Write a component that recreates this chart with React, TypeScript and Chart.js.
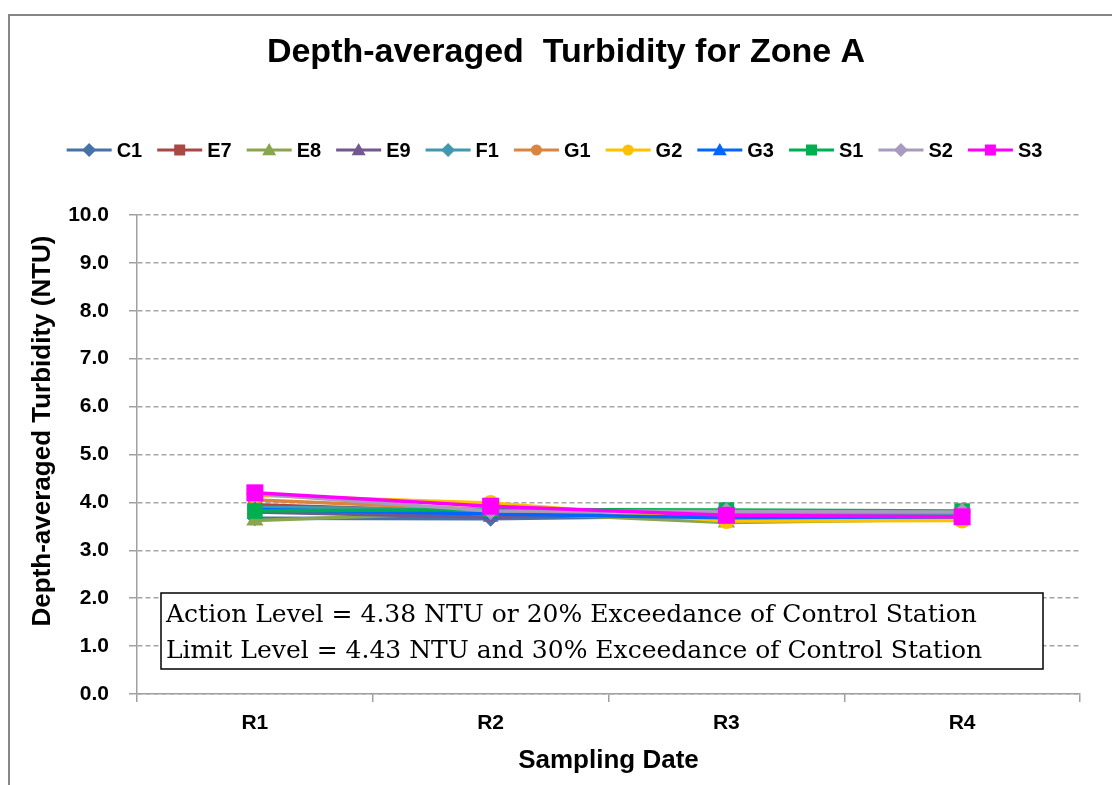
import React, { useEffect, useRef } from "react";
import { Chart, registerables } from "chart.js";

Chart.register(...registerables);

// ---------- data ----------
const categories = ["R1", "R2", "R3", "R4"];
const seriesNames = ["C1", "E7", "E8", "E9", "F1", "G1", "G2", "G3", "S1", "S2", "S3"];
const c1 = [3.67, 3.66, 3.72, 3.72];
const e7 = [3.95, 3.8, 3.72, 3.72];
const e8 = [3.62, 3.8, 3.58, 3.65];
const e9 = [3.8, 3.69, 3.8, 3.78];
const f1 = [3.9, 3.85, 3.78, 3.76];
const g1 = [4.05, 3.85, 3.65, 3.65];
const g2 = [4.15, 3.99, 3.61, 3.62];
const g3 = [3.85, 3.76, 3.68, 3.7];
const s1 = [3.82, 3.85, 3.84, 3.82];
const s2 = [4.18, 3.82, 3.81, 3.8];
const s3 = [4.2, 3.92, 3.73, 3.7];
const seriesValues = [c1, e7, e8, e9, f1, g1, g2, g3, s1, s2, s3];
const yMin = 0;
const yMax = 10;
const yStep = 1;

const titleText = "Depth-averaged  Turbidity for Zone A";
const yTitle = "Depth-averaged Turbidity (NTU)";
const xTitle = "Sampling Date";
const noteLines = [
  "Action Level = 4.38 NTU or 20% Exceedance of Control Station",
  "Limit Level = 4.43 NTU and 30% Exceedance of Control Station",
];

// ---------- styles ----------
const seriesStyles = [
  { color: "#4572A7", marker: "rectRot", r: 8 },
  { color: "#AA4643", marker: "rect", r: 10 },
  { color: "#89A54E", marker: "triangle", r: 10 },
  { color: "#71588F", marker: "triangle", r: 9 },
  { color: "#4198AF", marker: "rectRot", r: 8 },
  { color: "#DB843D", marker: "circle", r: 7 },
  { color: "#FFC000", marker: "circle", r: 8 },
  { color: "#0066FF", marker: "triangle", r: 9 },
  { color: "#00B050", marker: "rect", r: 11 },
  { color: "#A99BBD", marker: "rectRot", r: 9 },
  { color: "#FF00FF", marker: "rect", r: 12 },
];

const SANS = "'Liberation Sans', Arial, sans-serif";

function drawMarker(ctx: CanvasRenderingContext2D, style: string, x: number, y: number, r: number, color: string) {
  ctx.save();
  ctx.fillStyle = color;
  ctx.beginPath();
  if (style === "rectRot") {
    ctx.moveTo(x, y - r);
    ctx.lineTo(x + r, y);
    ctx.lineTo(x, y + r);
    ctx.lineTo(x - r, y);
    ctx.closePath();
  } else if (style === "rect") {
    ctx.rect(x - r, y - r, 2 * r, 2 * r);
  } else if (style === "triangle") {
    ctx.moveTo(x, y - r);
    ctx.lineTo(x + r, y + r * 0.75);
    ctx.lineTo(x - r, y + r * 0.75);
    ctx.closePath();
  } else {
    ctx.arc(x, y, r, 0, Math.PI * 2);
  }
  ctx.fill();
  ctx.restore();
}

const decorPlugin = {
  id: "decor",
  afterDraw(chart: any) {
    const ctx: CanvasRenderingContext2D = chart.ctx;
    const area = chart.chartArea;
    ctx.save();
    // title
    ctx.fillStyle = "#000";
    ctx.font = `bold 34px ${SANS}`;
    ctx.textAlign = "center";
    ctx.textBaseline = "middle";
    ctx.fillText(titleText, 566, 53);

    // y axis title
    ctx.save();
    ctx.translate(43, 431);
    ctx.rotate(-Math.PI / 2);
    ctx.font = `bold 26px ${SANS}`;
    ctx.fillText(yTitle, 0, 0);
    ctx.restore();

    // legend
    ctx.font = `bold 20px ${SANS}`;
    const lineLen = 45;
    const gapText = 5;
    const gapItem = 15;
    const datasets = chart.data.datasets;
    const widths = datasets.map((d: any) => ctx.measureText(d.label).width);
    let total = 0;
    widths.forEach((w: number, i: number) => {
      total += lineLen + gapText + w + (i < widths.length - 1 ? gapItem : 0);
    });
    let x = 554.5 - total / 2;
    const ly = 150;
    ctx.textAlign = "left";
    datasets.forEach((d: any, i: number) => {
      const st = seriesStyles[i];
      ctx.strokeStyle = st.color;
      ctx.lineWidth = 3;
      ctx.beginPath();
      ctx.moveTo(x, ly);
      ctx.lineTo(x + lineLen, ly);
      ctx.stroke();
      const mr = st.marker === "rect" ? 5.5 : st.marker === "circle" ? 5.5 : 7;
      drawMarker(ctx, st.marker, x + lineLen / 2, ly, mr, st.color);
      ctx.fillStyle = "#000";
      ctx.fillText(d.label, x + lineLen + gapText, ly + 1);
      x += lineLen + gapText + widths[i] + gapItem;
    });

    // note box
    const bx = area.left + 24;
    const by = 593;
    const bw = 882;
    const bh = 76;
    ctx.fillStyle = "#fff";
    ctx.fillRect(bx, by, bw, bh);
    ctx.strokeStyle = "#000";
    ctx.lineWidth = 1.5;
    ctx.strokeRect(bx, by, bw, bh);
    ctx.font = `24px 'DejaVu Serif', serif`;
    const w0 = ctx.measureText(noteLines[0]).width;
    const size = (24 * 811) / w0;
    ctx.font = `${size.toFixed(2)}px 'DejaVu Serif', serif`;
    ctx.fillStyle = "#000";
    ctx.textBaseline = "alphabetic";
    ctx.fillText(noteLines[0], bx + 5, by + 29);
    ctx.fillText(noteLines[1], bx + 5, by + 65);
    ctx.restore();
  },
};

export default function App() {
  const ref = useRef<HTMLCanvasElement | null>(null);
  useEffect(() => {
    if (!ref.current) return;
    const n = seriesNames.length;
    const chart = new Chart(ref.current, {
      type: "line",
      data: {
        labels: categories,
        datasets: seriesNames.map((name, i) => ({
          label: name,
          data: seriesValues[i],
          borderColor: seriesStyles[i].color,
          backgroundColor: seriesStyles[i].color,
          pointBackgroundColor: seriesStyles[i].color,
          pointBorderColor: seriesStyles[i].color,
          pointBorderWidth: 0,
          pointStyle: seriesStyles[i].marker as any,
          pointRadius: seriesStyles[i].r,
          borderWidth: 3.5,
          tension: 0,
          fill: false,
          order: n - 1 - i,
        })),
      },
      options: {
        responsive: false,
        animation: false,
        layout: { padding: { top: 215, left: 0, right: 32, bottom: 0 } },
        plugins: {
          legend: { display: false },
          title: { display: false },
          tooltip: { enabled: false },
        },
        scales: {
          x: {
            type: "category",
            offset: true,
            grid: {
              offset: true,
              drawOnChartArea: false,
              drawTicks: true,
              tickLength: 8,
              color: "#A0A0A0",
              lineWidth: 1.5,
            },
            border: { display: true, color: "#A0A0A0", width: 1.5 },
            ticks: {
              color: "#000",
              font: { family: SANS, size: 21, weight: "bold" },
              padding: 9,
            },
            title: {
              display: true,
              text: xTitle,
              color: "#000",
              font: { family: SANS, size: 26, weight: "bold" },
              padding: { top: 9, bottom: 9 },
            },
            afterFit(scale: any) {
              scale.height = 91;
              scale.paddingLeft = 0;
              scale.paddingRight = 0;
            },
          },
          y: {
            min: yMin,
            max: yMax,
            grid: {
              color: "#A6A6A6",
              lineWidth: 1.5,
              tickLength: 8,
              tickColor: "#A0A0A0",
            },
            border: { display: true, color: "#A0A0A0", width: 1.5, dash: [5, 3] },
            ticks: {
              stepSize: yStep,
              color: "#000",
              font: { family: SANS, size: 21, weight: "bold" },
              padding: 20,
              callback: (v: any) => Number(v).toFixed(1),
            },
            title: { display: false },
            afterFit(scale: any) {
              scale.width = 137;
              scale.paddingTop = 0;
              scale.paddingBottom = 0;
            },
          },
        },
      } as any,
      plugins: [decorPlugin],
    });
    return () => chart.destroy();
  }, []);

  return (
    <div
      style={{
        position: "absolute",
        left: 0,
        top: 0,
        width: 1112,
        height: 785,
        overflow: "hidden",
        background: "#fff",
      }}
    >
      <div
        style={{
          position: "absolute",
          left: 8,
          top: 14,
          width: 1300,
          height: 1000,
          border: "2px solid #868686",
        }}
      />
      <canvas ref={ref} width={1112} height={785} style={{ position: "absolute", left: 0, top: 0 }} />
    </div>
  );
}
